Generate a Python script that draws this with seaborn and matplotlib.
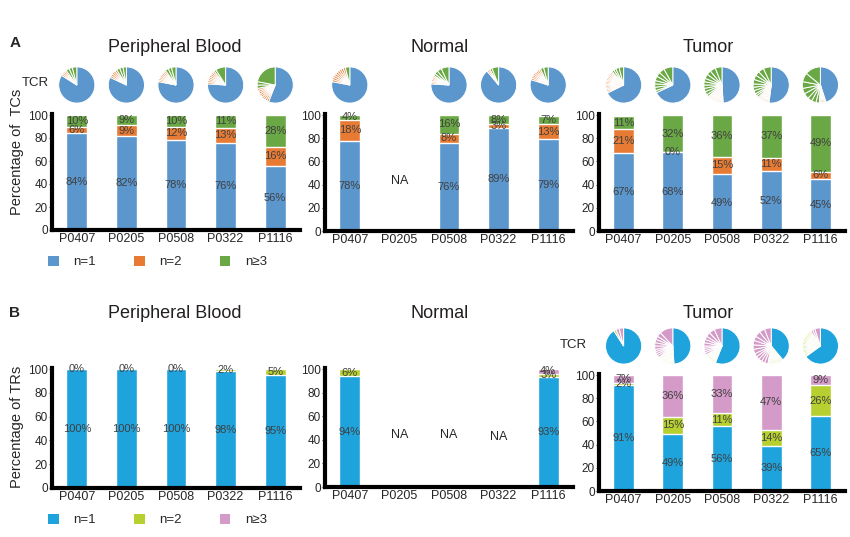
import numpy as np
import pandas as pd
import matplotlib
matplotlib.use('Agg')
import matplotlib.pyplot as plt
from matplotlib.patches import Patch
import seaborn as sns

sns.set_style("white")
plt.rcParams['font.family'] = ['Liberation Sans', 'DejaVu Sans']

# DATOS
patients = ["P0407", "P0205", "P0508", "P0322", "P1116"]
NA = np.nan

# Panel A: TCs (porcentaje por tamaño de clon)
tc_blood_n1 = [84, 82, 78, 76, 56]
tc_blood_n2 = [6, 9, 12, 13, 16]
tc_blood_n3 = [10, 9, 10, 11, 28]
tc_normal_n1 = [78, NA, 76, 89, 79]
tc_normal_n2 = [18, NA, 8, 3, 13]
tc_normal_n3 = [4, NA, 16, 8, 7]
tc_tumor_n1 = [67, 68, 49, 52, 45]
tc_tumor_n2 = [21, 0, 15, 11, 6]
tc_tumor_n3 = [11, 32, 36, 37, 49]

# Panel B: TRs
tr_blood_n1 = [100, 100, 100, 98, 95]
tr_blood_n2 = [0, 0, 0, 2, 5]
tr_blood_n3 = [NA, NA, NA, NA, NA]
tr_normal_n1 = [94, NA, NA, NA, 93]
tr_normal_n2 = [6, NA, NA, NA, 3]
tr_normal_n3 = [NA, NA, NA, NA, 4]
tr_tumor_n1 = [91, 49, 56, 39, 65]
tr_tumor_n2 = [2, 15, 11, 14, 26]
tr_tumor_n3 = [7, 36, 33, 47, 9]

# Tartas TCR: nº de clones n=2 y tamaños (%) de los clones n>=3
tc_blood_pie_k2 = [4, 5, 8, 8, 9]
tc_blood_pie_n3 = [[4, 3, 3], [3, 3, 3], [4, 3, 3], [9, 2], [22, 3, 3]]
tc_normal_pie_k2 = [9, None, 6, 2, 8]
tc_normal_pie_n3 = [[4], None, [7, 4, 3, 2], [6, 2], [4, 3]]
tc_tumor_pie_k2 = [16, 0, 14, 10, 5]
tc_tumor_pie_n3 = [[4, 3, 2, 2], [8, 5, 4, 4, 3, 3, 3, 2],
                   [6, 5, 4, 4, 3, 3, 3, 3, 3, 2],
                   [7, 5, 4, 4, 4, 3, 3, 3, 2, 2],
                   [14, 8, 6, 5, 5, 4, 4, 3]]
tr_tumor_pie_k2 = [1, 14, 10, 12, 20]
tr_tumor_pie_n3 = [[4, 3], [12, 4, 3, 3, 3, 3, 2, 2, 2, 2],
                   [7, 5, 4, 3, 3, 3, 2, 2, 2, 2],
                   [6, 5, 5, 4, 4, 4, 4, 3, 3, 3, 3, 3],
                   [5, 2, 2]]

# NA: (paciente, altura del texto)
na_normal_a = [("P0205", 43)]
na_normal_b = [("P0205", 44), ("P0508", 44), ("P0322", 42)]

COLORS_A = ["#5b96cd", "#e87b34", "#6aa845"]
COLORS_B = ["#1fa3dc", "#b7d030", "#d49ac8"]
LEGEND_LABELS = ["n=1", "n=2", "n≥3"]

W, H = 850, 537
fig = plt.figure(figsize=(W / 100, H / 100), dpi=100)


def px_axes(x0, x1, y_top, y_bot):
    # y_top corresponde al valor 100, se añade un poco por encima
    h = (y_bot - y_top) / 100 * 101
    return fig.add_axes([x0 / W, 1 - y_bot / H, (x1 - x0) / W, h / H])


def draw_bars(ax, n1, n2, n3, colors):
    df = pd.DataFrame({"patient": patients, "n1": n1, "n2": n2, "n3": n3})
    df["c1"] = df["n1"]
    df["c2"] = df["c1"] + df["n2"]
    df["c3"] = df["c2"] + df["n3"]
    for col, color in [("c3", colors[2]), ("c2", colors[1]), ("c1", colors[0])]:
        sns.barplot(data=df, x="patient", y=col, order=patients, color=color,
                    width=0.42, saturation=1, errorbar=None, ax=ax)
    for i, row in df.iterrows():
        base = 0
        for v in [row["n1"], row["n2"], row["n3"]]:
            if pd.isna(v):
                continue
            ax.text(i, base + v / 2, f"{int(v)}%", ha="center", va="center",
                    fontsize=8, color="#404040")
            base += v
    ax.set_xlim(-0.5, 4.5)
    ax.set_ylim(0, 101)
    ax.set_yticks([0, 20, 40, 60, 80, 100])
    ax.set_xlabel("")
    ax.set_ylabel("")
    sns.despine(ax=ax)
    for s in ["left", "bottom"]:
        ax.spines[s].set_linewidth(3)
        ax.spines[s].set_color("black")
    ax.tick_params(axis="x", labelsize=9, length=0, pad=2)
    ax.tick_params(axis="y", labelsize=8.5, length=2, width=0.6, pad=1, left=True)


def draw_pies(ax, k2_list, n3_list, n1, n2, colors, y_center):
    for i, (k2, sizes3) in enumerate(zip(k2_list, n3_list)):
        if sizes3 is None:
            continue
        cx = fig.transFigure.inverted().transform(ax.transData.transform((i, 0)))[0]
        d = 38
        pax = fig.add_axes([cx - d / 2 / W, 1 - (y_center + d / 2) / H, d / W, d / H])
        slices = [n1[i]]
        cols = [colors[0]]
        if k2 > 0:
            slices += [n2[i] / k2] * k2
            cols += [colors[1]] * k2
        slices += sizes3[::-1]
        cols += [colors[2]] * len(sizes3)
        pax.pie(slices, colors=cols, startangle=90, counterclock=False,
                wedgeprops=dict(edgecolor="white", linewidth=0.7))
        pax.set_xlim(-1.05, 1.05)
        pax.set_ylim(-1.05, 1.05)
        pax.axis("off")


# PANEL A
ax_a1 = px_axes(52, 300, 115, 230)
ax_a2 = px_axes(325, 573, 115, 231)
ax_a3 = px_axes(599, 845, 115, 231)
draw_bars(ax_a1, tc_blood_n1, tc_blood_n2, tc_blood_n3, COLORS_A)
draw_bars(ax_a2, tc_normal_n1, tc_normal_n2, tc_normal_n3, COLORS_A)
draw_bars(ax_a3, tc_tumor_n1, tc_tumor_n2, tc_tumor_n3, COLORS_A)
for p, y in na_normal_a:
    ax_a2.text(patients.index(p), y, "NA", ha="center", va="center", fontsize=9)

draw_pies(ax_a1, tc_blood_pie_k2, tc_blood_pie_n3, tc_blood_n1, tc_blood_n2, COLORS_A, 85)
draw_pies(ax_a2, tc_normal_pie_k2, tc_normal_pie_n3, tc_normal_n1, tc_normal_n2, COLORS_A, 85)
draw_pies(ax_a3, tc_tumor_pie_k2, tc_tumor_pie_n3, tc_tumor_n1, tc_tumor_n2, COLORS_A, 85)

# PANEL B
ax_b1 = px_axes(52, 300, 369, 488)
ax_b2 = px_axes(325, 573, 369, 487)
ax_b3 = px_axes(599, 845, 375, 491)
draw_bars(ax_b1, tr_blood_n1, tr_blood_n2, tr_blood_n3, COLORS_B)
draw_bars(ax_b2, tr_normal_n1, tr_normal_n2, tr_normal_n3, COLORS_B)
draw_bars(ax_b3, tr_tumor_n1, tr_tumor_n2, tr_tumor_n3, COLORS_B)
for p, y in na_normal_b:
    ax_b2.text(patients.index(p), y, "NA", ha="center", va="center", fontsize=9)

draw_pies(ax_b3, tr_tumor_pie_k2, tr_tumor_pie_n3, tr_tumor_n1, tr_tumor_n2, COLORS_B, 346)

# TEXTOS
for x, y, t in [(175, 48, "Peripheral Blood"), (440, 48, "Normal"), (708, 48, "Tumor"),
                (175, 313, "Peripheral Blood"), (440, 313, "Normal"), (708, 313, "Tumor")]:
    fig.text(x / W, 1 - y / H, t, ha="center", va="center", fontsize=13, color="#231f20")

fig.text(15 / W, 1 - 43 / H, "A", ha="center", va="center", fontsize=11, fontweight="bold")
fig.text(15 / W, 1 - 313 / H, "B", ha="center", va="center", fontsize=11, fontweight="bold")
fig.text(35 / W, 1 - 83 / H, "TCR", ha="center", va="center", fontsize=9.5)
fig.text(573 / W, 1 - 345 / H, "TCR", ha="center", va="center", fontsize=9.5)
fig.text(17 / W, 1 - 152 / H, "Percentage of  TCs", rotation=90, ha="center", va="center", fontsize=10.5)
fig.text(17 / W, 1 - 427 / H, "Percentage of TRs", rotation=90, ha="center", va="center", fontsize=10.5)

# LEYENDAS
for ax, colors, y in [(ax_a1, COLORS_A, 262), (ax_b1, COLORS_B, 520)]:
    handles = [Patch(facecolor=c, edgecolor="none", label=l) for c, l in zip(colors, LEGEND_LABELS)]
    fig.legend(handles=handles, loc="center left", bbox_to_anchor=(48 / W, 1 - y / H),
               ncol=3, frameon=False, fontsize=9.5, handlelength=0.8, handleheight=0.8,
               handletextpad=1.1, columnspacing=2.9, borderaxespad=0, borderpad=0)

fig.savefig("out.png", dpi=100)
